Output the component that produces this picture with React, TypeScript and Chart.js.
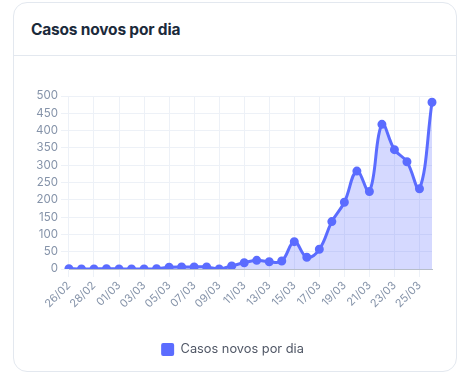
import React, { useEffect, useRef } from "react";
import { Chart, registerables } from "chart.js";

Chart.register(...registerables);

const labels = [
  "26/02", "27/02", "28/02", "29/02", "01/03", "02/03", "03/03", "04/03", "05/03", "06/03",
  "07/03", "08/03", "09/03", "10/03", "11/03", "12/03", "13/03", "14/03", "15/03", "16/03",
  "17/03", "18/03", "19/03", "20/03", "21/03", "22/03", "23/03", "24/03", "25/03", "26/03",
];
const casosNovos = [
  1, 0, 0, 1, 0, 0, 0, 1, 5, 6,
  6, 6, 0, 9, 18, 25, 21, 23, 79, 34,
  57, 137, 193, 283, 224, 418, 345, 310, 232, 482,
];
const seriesName = "Casos novos por dia";
const title = "Casos novos por dia";

const FONT = "Inter, 'Noto Sans', sans-serif";

export default function App() {
  const ref = useRef<HTMLCanvasElement | null>(null);
  useEffect(() => {
    if (!ref.current) return;
    const chart = new Chart(ref.current, {
      type: "line",
      data: {
        labels,
        datasets: [
          {
            label: seriesName,
            data: casosNovos,
            borderColor: "#5b6cff",
            backgroundColor: "rgba(91,108,255,0.26)",
            pointBackgroundColor: "#5b6cff",
            pointBorderColor: "#5b6cff",
            pointRadius: 3,
            borderWidth: 3,
            tension: 0.4,
            fill: "origin",
          },
        ],
      },
      options: {
        animation: false,
        responsive: true,
        maintainAspectRatio: false,
        layout: { padding: { left: 19, right: 24, top: 40, bottom: 5 } },
        plugins: {
          tooltip: { enabled: false },
          legend: {
            position: "bottom",
            labels: {
              boxWidth: 13,
              boxHeight: 13,
              useBorderRadius: true,
              borderRadius: 2,
              color: "#4f5665",
              font: { family: FONT, size: 12.8 },
              padding: 10,
              generateLabels: (c: any) =>
                c.data.datasets.map((d: any, i: number) => ({
                  text: d.label,
                  fillStyle: d.borderColor,
                  strokeStyle: d.borderColor,
                  lineWidth: 0,
                  fontColor: "#4f5665",
                  datasetIndex: i,
                  borderRadius: 2,
                })),
            },
          },
        },
        scales: {
          x: {
            grid: { color: "#edf1f7", tickLength: 8 },
            border: { color: "#b7bec9" },
            ticks: {
              color: "#8593a9",
              font: { family: FONT, size: 11 },
              maxRotation: 45,
              minRotation: 45,
              autoSkip: true,
              maxTicksLimit: 15,
              padding: 2,
            },
            afterFit: (s: any) => {
              s.height = 64;
            },
          },
          y: {
            min: 0,
            max: 500,
            grid: { color: "#edf1f7", tickLength: 8 },
            border: { color: "#edf1f7" },
            ticks: {
              stepSize: 50,
              color: "#8593a9",
              font: { family: FONT, size: 11.5 },
              padding: 3,
            },
          },
        },
      },
    });
    return () => chart.destroy();
  }, []);

  return (
    <div
      style={{
        position: "absolute",
        left: 13,
        top: 2,
        width: 444,
        height: 370,
        boxSizing: "border-box",
        border: "1px solid #e3e8ef",
        borderRadius: 14,
        background: "#fff",
        overflow: "hidden",
      }}
    >
      <div
        style={{
          height: 52,
          borderBottom: "1px solid #e3e8ef",
          boxSizing: "content-box",
          display: "flex",
          alignItems: "center",
          paddingLeft: 17,
          fontFamily: FONT,
          fontWeight: 700,
          fontSize: 15.5,
          letterSpacing: -0.2,
          color: "#1b2a3b",
        }}
      >
        {title}
      </div>
      <div style={{ position: "relative", width: 442, height: 315 }}>
        <canvas ref={ref} />
      </div>
    </div>
  );
}
